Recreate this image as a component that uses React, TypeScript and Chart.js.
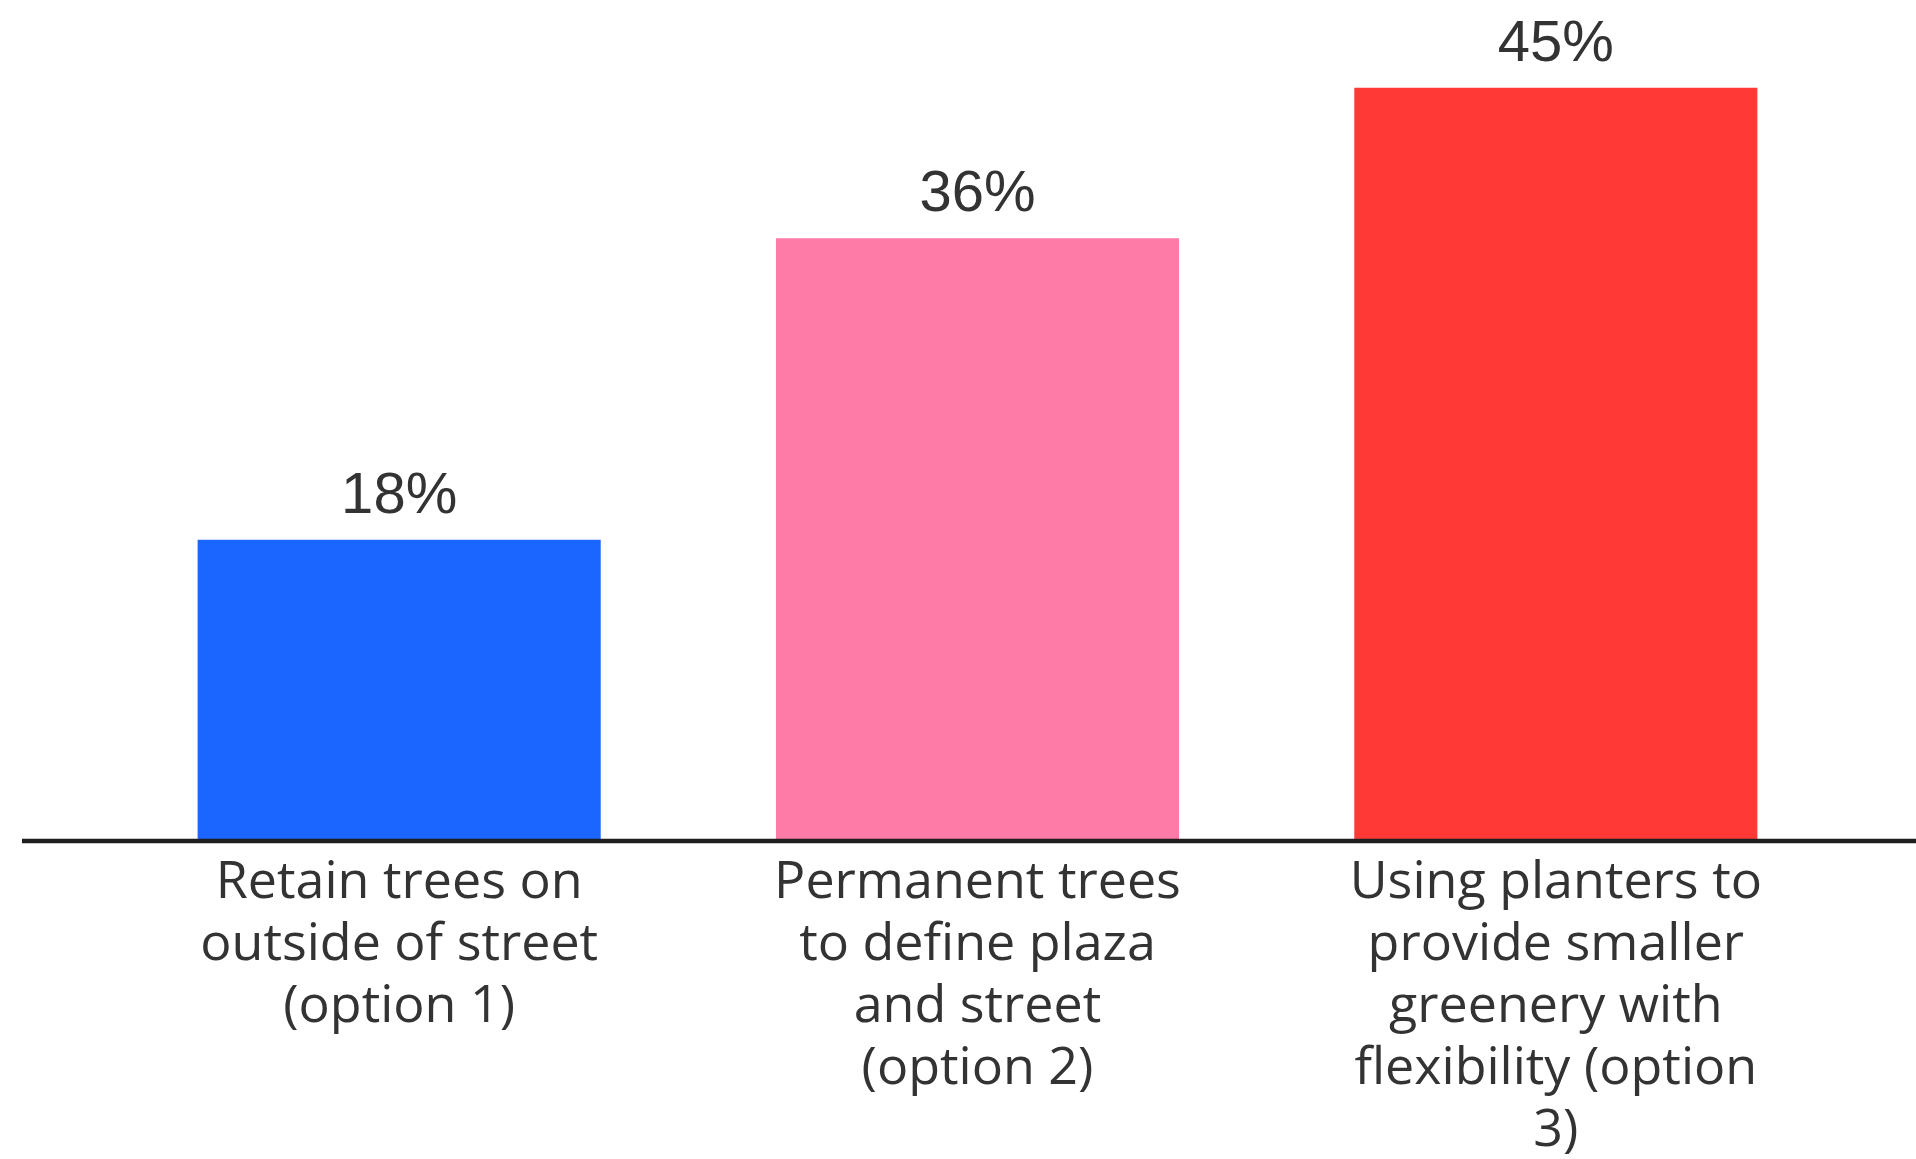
import React, { useEffect, useRef } from "react";
import { Chart, registerables } from "chart.js";

Chart.register(...registerables);

const categories: string[][] = [
  ["Retain trees on", "outside of street", "(option 1)"],
  ["Permanent trees", "to define plaza", "and street", "(option 2)"],
  ["Using planters to", "provide smaller", "greenery with", "flexibility (option", "3)"],
];
const values: number[] = [18, 36, 45];
const valueLabels: string[] = ["18%", "36%", "45%"];
const barColors: string[] = ["#1b66ff", "#ff7ba7", "#ff3a36"];

const valueLabelPlugin = {
  id: "valueLabels",
  afterDatasetsDraw(chart: any) {
    const ctx = chart.ctx;
    const meta = chart.getDatasetMeta(0);
    ctx.save();
    ctx.font = "58px 'Liberation Sans', Arial, sans-serif";
    ctx.fillStyle = "#333333";
    ctx.textAlign = "center";
    ctx.textBaseline = "alphabetic";
    meta.data.forEach((bar: any, i: number) => {
      ctx.fillText(valueLabels[i], bar.x, bar.y - 27);
    });
    ctx.restore();
  },
};

const axisLinePlugin = {
  id: "axisLine",
  afterDatasetsDraw(chart: any) {
    const ctx = chart.ctx;
    const y = chart.scales.y.getPixelForValue(0);
    ctx.save();
    ctx.strokeStyle = "#1e1e1e";
    ctx.lineWidth = 4.5;
    ctx.beginPath();
    ctx.moveTo(22, y);
    ctx.lineTo(chart.width, y);
    ctx.stroke();
    ctx.restore();
  },
};

export default function App() {
  const canvasRef = useRef<HTMLCanvasElement | null>(null);

  useEffect(() => {
    if (!canvasRef.current) return;
    const chart = new Chart(canvasRef.current, {
      type: "bar",
      data: {
        labels: categories,
        datasets: [
          {
            data: values,
            backgroundColor: barColors,
            borderWidth: 0,
            categoryPercentage: 1,
            barPercentage: 0.697,
          },
        ],
      },
      options: {
        responsive: false,
        animation: false,
        layout: { padding: { top: 4, left: 110, right: 71, bottom: 0 } },
        plugins: {
          legend: { display: false },
          tooltip: { enabled: false },
        },
        scales: {
          x: {
            grid: { display: false, drawTicks: false },
            border: { display: false },
            afterFit: (scale: any) => {
              scale.height = 318;
            },
            ticks: {
              color: "#333333",
              padding: 11,
              font: { family: "'Open Sans', sans-serif", size: 52, lineHeight: "62px" } as any,
              maxRotation: 0,
              autoSkip: false,
            },
          },
          y: {
            display: false,
            min: 0,
            max: 50,
          },
        },
      },
      plugins: [valueLabelPlugin, axisLinePlugin],
    });
    return () => chart.destroy();
  }, []);

  return (
    <div style={{ position: "fixed", left: 0, top: 0, width: 1916, height: 1159, background: "#ffffff" }}>
      <canvas ref={canvasRef} width={1916} height={1159} />
    </div>
  );
}
